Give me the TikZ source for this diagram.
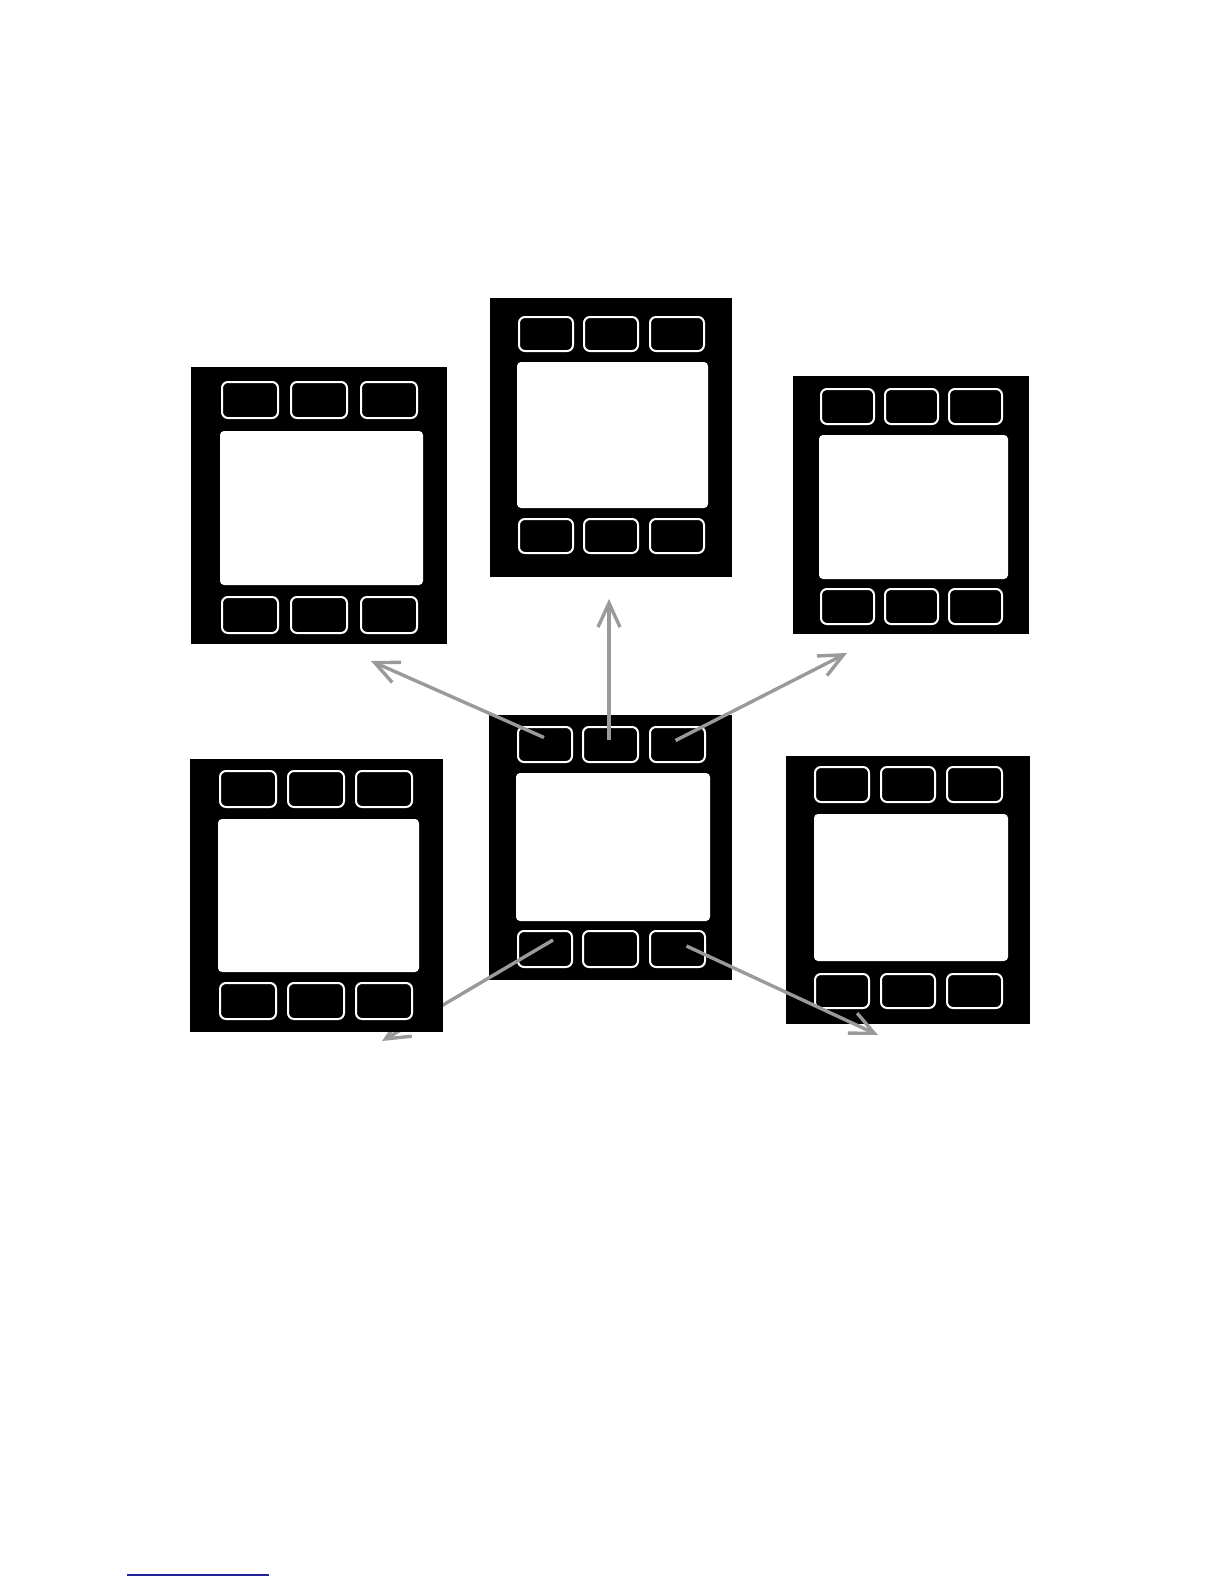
\documentclass[tikz,border=0pt]{standalone}
\usetikzlibrary{arrows.meta,fit}
\definecolor{linkgray}{HTML}{9A9A9A}
\definecolor{ruleblue}{HTML}{22229C}
\tikzset{
  body/.style={fill=black, inner sep=0pt, outer sep=0pt},
  btn/.style={draw=white, line width=2pt, rounded corners=6pt, fill=black, inner sep=0pt, outer sep=0pt},
  screen/.style={fill=white, rounded corners=4pt, inner sep=0pt, outer sep=0pt},
  link/.style={draw=linkgray, line width=3.4pt, -{Straight Barb[length=24pt, width=22pt, line width=3.4pt]}},
  footrule/.style={draw=ruleblue, line width=1.3pt}
}
% a row of three buttons: prefix, x ranges, y range
\newcommand\buttonrow[9]{%
  \node[btn, fit={(#2,#8) (#3,#9)}] (#1a) {};
  \node[btn, fit={(#4,#8) (#5,#9)}] (#1b) {};
  \node[btn, fit={(#6,#8) (#7,#9)}] (#1c) {};
}
\begin{document}
\begin{tikzpicture}[x=1pt, y=-1pt]
\useasboundingbox (0,0) rectangle (1224,1584);
\fill[white] (0,0) rectangle (1224,1584);

% centre device
\node[body, fit={(489,715) (732,980)}] (C) {};
\buttonrow{Ct}{518}{572}{583}{638}{650}{705}{727}{762}
\node[screen, fit={(516,773) (710,921)}] (Cs) {};
\buttonrow{Cb}{518}{572}{583}{638}{650}{705}{931}{967}

% top-left device
\node[body, fit={(191,367) (447,644)}] (TL) {};
\buttonrow{TLt}{222}{278}{291}{347}{361}{417}{382}{418}
\node[screen, fit={(220,431) (423,585)}] (TLs) {};
\buttonrow{TLb}{222}{278}{291}{347}{361}{417}{597}{633}

% top-centre device
\node[body, fit={(490,298) (732,577)}] (TC) {};
\buttonrow{TCt}{519}{573}{584}{638}{650}{704}{317}{351}
\node[screen, fit={(517,362) (708,508)}] (TCs) {};
\buttonrow{TCb}{519}{573}{584}{638}{650}{704}{519}{553}

% top-right device
\node[body, fit={(793,376) (1029,634)}] (TR) {};
\buttonrow{TRt}{821}{874}{885}{938}{949}{1002}{389}{424}
\node[screen, fit={(819,435) (1008,579)}] (TRs) {};
\buttonrow{TRb}{821}{874}{885}{938}{949}{1002}{589}{624}

% bottom-right device
\node[body, fit={(786,756) (1030,1024)}] (BR) {};
\buttonrow{BRt}{815}{869}{881}{935}{947}{1002}{767}{802}
\node[screen, fit={(814,814) (1008,961)}] (BRs) {};
\buttonrow{BRb}{815}{869}{881}{935}{947}{1002}{974}{1008}

% arrow end points
\coordinate (tip1) at (371,661);
\coordinate (tip2) at (609,599);
\coordinate (tip3) at (847,653);
\coordinate (tip4) at (382,1041);
\coordinate (tip5) at (878,1035);

\draw[link] ([xshift=-1pt,yshift=7pt]Cta.center) -- (tip1);
\draw[link] ([xshift=-1.5pt,yshift=5pt]Ctb.center) -- (tip2);
\draw[link] ([xshift=-2pt,yshift=4pt]Ctc.center) -- (tip3);
\draw[link] ([xshift=9pt,yshift=3pt]Cbc.center) -- (tip5);
\draw[link] ([xshift=8pt,yshift=9pt]Cba.center) -- (tip4);

% bottom-left device (drawn over the arrow)
\node[body, fit={(190,759) (443,1032)}] (BL) {};
\buttonrow{BLt}{220}{276}{288}{344}{356}{412}{771}{807}
\node[screen, fit={(218,819) (419,972)}] (BLs) {};
\buttonrow{BLb}{220}{276}{288}{344}{356}{412}{983}{1019}

% footnote rule
\coordinate (r1) at (127,1575);
\coordinate (r2) at (269,1575);
\draw[footrule] (r1) -- (r2);
\end{tikzpicture}
\end{document}
